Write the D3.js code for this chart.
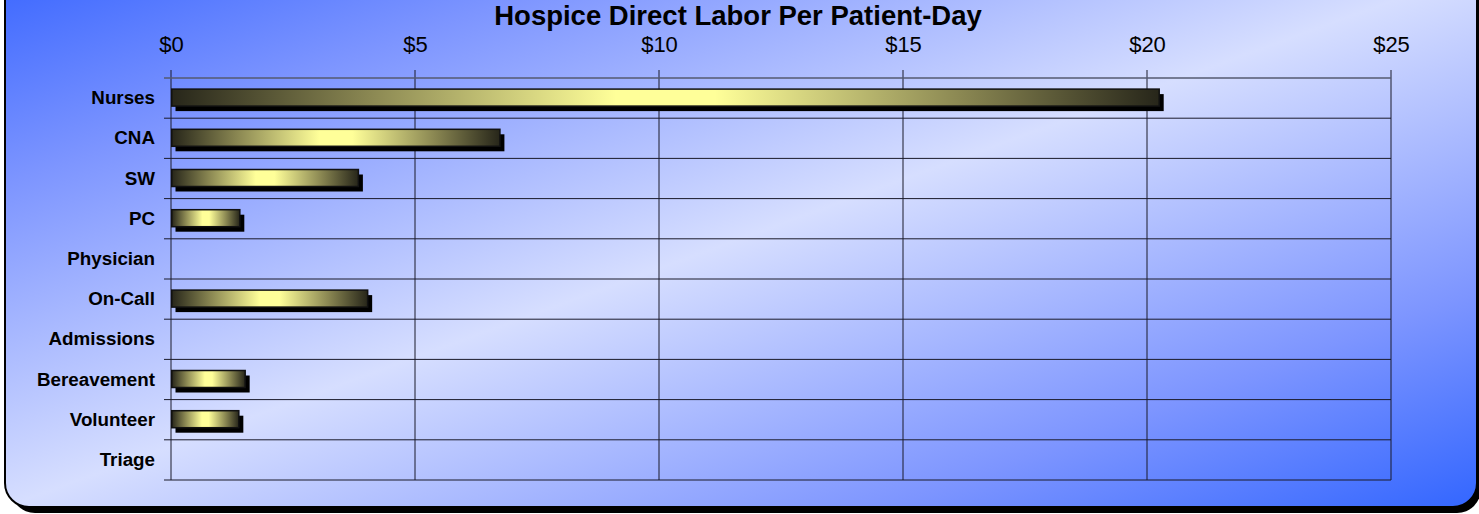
<!DOCTYPE html>
<html>
<head>
<meta charset="utf-8">
<script src="https://cdn.jsdelivr.net/npm/d3@7/dist/d3.min.js"></script>
<style>
  html, body { margin: 0; padding: 0; background: #ffffff; }
  svg { display: block; }
</style>
</head>
<body>
<script>
const categories = ["Nurses", "CNA", "SW", "PC", "Physician", "On-Call", "Admissions", "Bereavement", "Volunteer", "Triage"];
const values = [20.25, 6.74, 3.84, 1.41, 0, 4.03, 0, 1.52, 1.39, 0];
const tickValues = [0, 5, 10, 15, 20, 25];
const title = "Hospice Direct Labor Per Patient-Day";

const W = 1479, H = 514;
const svg = d3.select("body").append("svg").attr("width", W).attr("height", H);
const defs = svg.append("defs");

const bg = defs.append("linearGradient").attr("id", "bgGrad")
  .attr("x1", 0).attr("y1", 0).attr("x2", 1).attr("y2", 1);
bg.append("stop").attr("offset", 0).attr("stop-color", "#3a66ff");
bg.append("stop").attr("offset", 0.2).attr("stop-color", "#7d95ff");
bg.append("stop").attr("offset", 0.5).attr("stop-color", "#d6deff");
bg.append("stop").attr("offset", 0.8).attr("stop-color", "#7d95ff");
bg.append("stop").attr("offset", 1).attr("stop-color", "#3366ff");

const bar = defs.append("linearGradient").attr("id", "barGrad")
  .attr("x1", 0).attr("y1", 0).attr("x2", 1).attr("y2", 0);
bar.append("stop").attr("offset", 0).attr("stop-color", "#27261a");
bar.append("stop").attr("offset", 0.2).attr("stop-color", "#8a8752");
bar.append("stop").attr("offset", 0.45).attr("stop-color", "#ffff99");
bar.append("stop").attr("offset", 0.55).attr("stop-color", "#ffff99");
bar.append("stop").attr("offset", 0.8).attr("stop-color", "#8a8752");
bar.append("stop").attr("offset", 1).attr("stop-color", "#27261a");

// panel with shadow
svg.append("rect").attr("x", 11).attr("y", -24).attr("width", 1470).attr("height", 537)
  .attr("rx", 24).attr("fill", "#000");
svg.append("rect").attr("x", 5).attr("y", -30).attr("width", 1472).attr("height", 537)
  .attr("rx", 24).attr("fill", "url(#bgGrad)").attr("stroke", "#000").attr("stroke-width", 2);

const x = d3.scaleLinear().domain([0, 25]).range([171, 1391]);
const y = d3.scaleBand().domain(categories).range([78, 480]).padding(0);

// grid
const grid = svg.append("g");
grid.selectAll("line.v").data(x.ticks(5)).join("line")
  .attr("x1", d => x(d)).attr("x2", d => x(d))
  .attr("y1", 70).attr("y2", 480)
  .attr("stroke", "#1a1a2a").attr("stroke-width", 1);
const hLines = categories.map(c => y(c)).concat([y.range()[1]]);
grid.selectAll("line.h").data(hLines).join("line")
  .attr("x1", 164).attr("x2", x(25))
  .attr("y1", d => d).attr("y2", d => d)
  .attr("stroke", (d, i) => i === 0 ? "#555a70" : "#1a1a2a")
  .attr("stroke-width", (d, i) => i === 0 ? 1.5 : 1);

// bars
const data = categories.map((c, i) => ({ c, v: values[i] })).filter(d => d.v > 0);
const bh = 17;
const barY = d => y(d.c) + y.bandwidth() / 2 - bh / 2 - 0.5;
svg.append("g").selectAll("rect").data(data).join("rect")
  .attr("x", x(0) + 4.5).attr("y", d => barY(d) + 5)
  .attr("width", d => x(d.v) - x(0)).attr("height", bh)
  .attr("fill", "#000");
svg.append("g").selectAll("rect").data(data).join("rect")
  .attr("x", x(0) + 0.75).attr("y", barY)
  .attr("width", d => x(d.v) - x(0) - 0.75).attr("height", bh)
  .attr("fill", "url(#barGrad)").attr("stroke", "#111").attr("stroke-width", 1.5);

// axes
const xAxis = svg.append("g").attr("transform", "translate(0,70)")
  .call(d3.axisTop(x).tickValues(tickValues).tickFormat(d => "$" + d).tickSize(0).tickPadding(18));
xAxis.select(".domain").remove();
xAxis.selectAll("text").attr("font-family", "Liberation Sans, Arial, sans-serif")
  .attr("font-size", 22).attr("fill", "#000");

const yAxis = svg.append("g").attr("transform", "translate(155,0)")
  .call(d3.axisLeft(y).tickSize(0).tickPadding(0));
yAxis.select(".domain").remove();
yAxis.selectAll("text").attr("font-family", "Liberation Sans, Arial, sans-serif")
  .attr("font-size", 18.8).attr("font-weight", "bold").attr("fill", "#000");

svg.append("text").attr("x", 738).attr("y", 25).attr("text-anchor", "middle")
  .attr("font-family", "Liberation Sans, Arial, sans-serif")
  .attr("font-size", 27.5).attr("font-weight", "bold").attr("fill", "#000")
  .text(title);
</script>
</body>
</html>
